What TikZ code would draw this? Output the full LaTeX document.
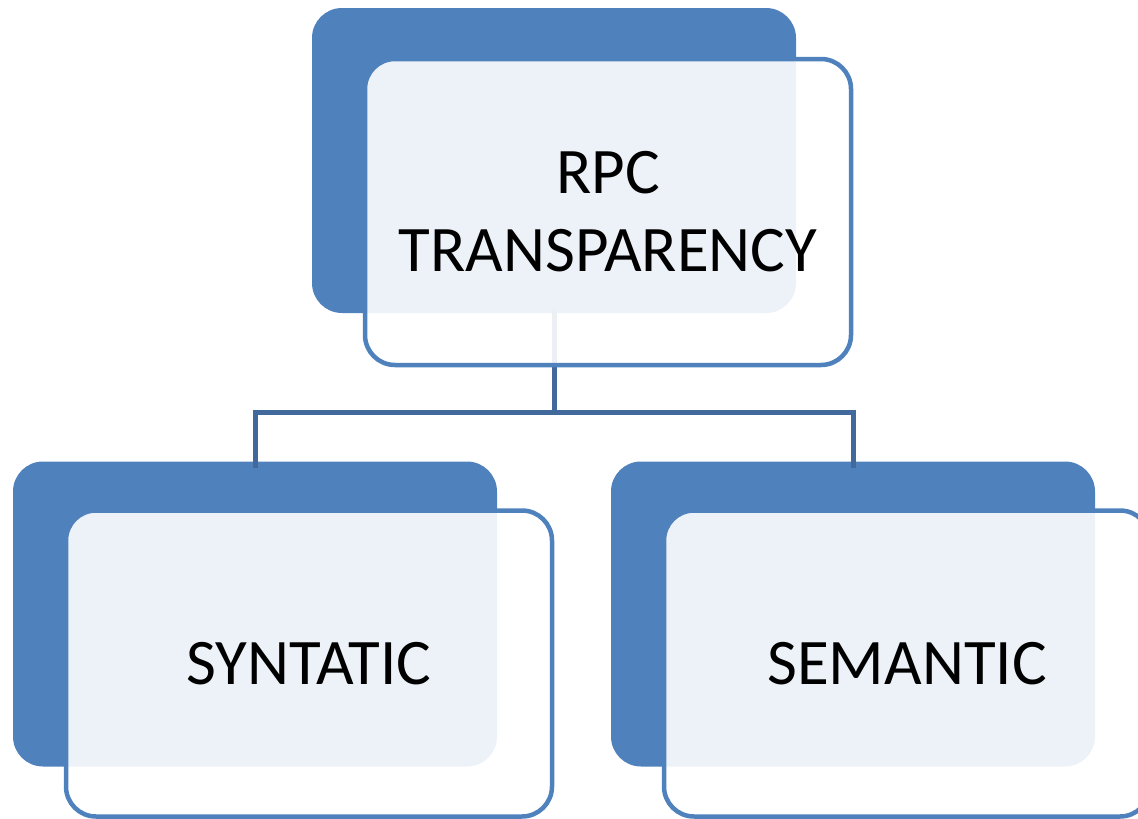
\documentclass[tikz,border=0pt]{standalone}
\usepackage{fontspec}
\setmainfont{Carlito}
\definecolor{accent}{HTML}{4F81BD}
\definecolor{linkblue}{HTML}{41699C}
\begin{document}
\begin{tikzpicture}[x=1pt,y=-1pt,
  backbox/.style={rounded corners=30pt, fill=accent, draw=none, inner sep=0pt,
    minimum width=484pt, minimum height=305pt},
  frontbox/.style={rounded corners=30pt, draw=accent, line width=4.5pt,
    fill=white, fill opacity=0.9, draw opacity=1, text opacity=1, inner sep=0pt,
    minimum width=486pt, minimum height=306pt, align=center,
    font=\fontsize{65}{78}\selectfont},
  link/.style={draw=linkblue, line width=5pt}]
\useasboundingbox (0,0) rectangle (1138,819);
\clip (0,0) rectangle (1138,819);

% back panels
\node[backbox] (rootback) at (554,160.5) {};
\node[backbox] (leftback) at (255,614) {};
\node[backbox] (rightback) at (853,614) {};

% tree connectors
\coordinate (fork) at (554,412);
\coordinate (leftend) at ([yshift=-7pt]leftback.north);
\coordinate (rightend) at ([yshift=-7pt]rightback.north);
\draw[link] ([yshift=5pt]rootback.south) -- (fork);
\draw[link] (leftend) |- (fork) -| (rightend);

% front panels with labels
\node[frontbox] (root) at (608,212) {RPC\\TRANSPARENCY};
\node[frontbox] (left) at (309,663.5) {SYNTATIC};
\node[frontbox] (right) at (907,663.5) {SEMANTIC};
\end{tikzpicture}
\end{document}
